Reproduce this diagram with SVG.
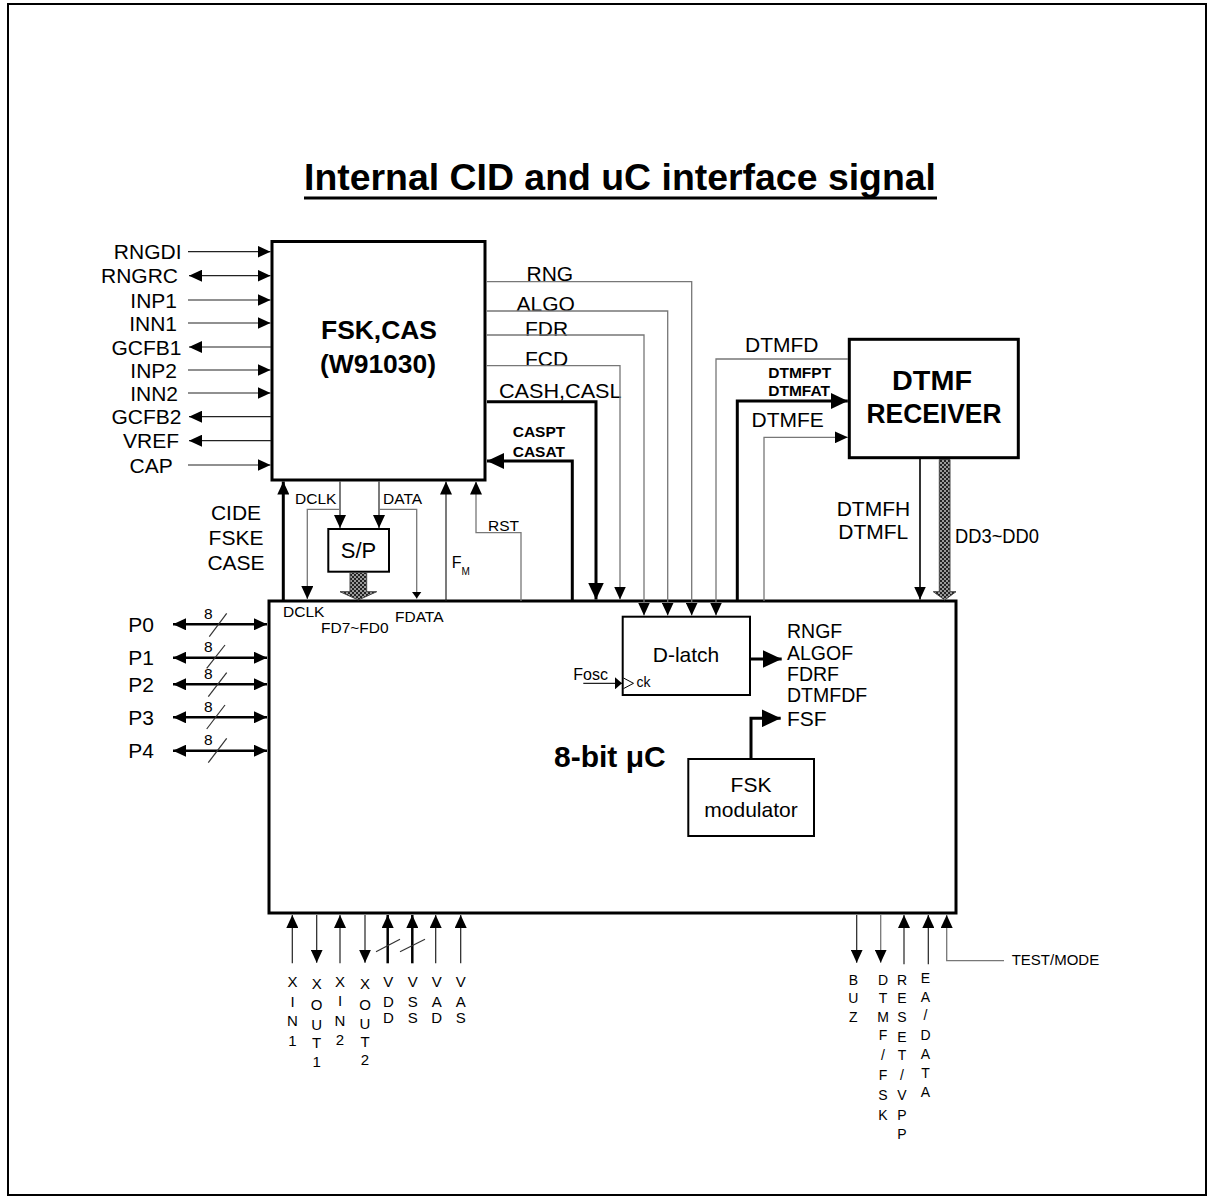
<svg xmlns="http://www.w3.org/2000/svg" width="1214" height="1200" viewBox="0 0 1214 1200">
<defs>
<style>
text{font-family:"Liberation Sans",Arial,sans-serif;fill:#000}
.l{font-size:21px}
.f{font-size:19.5px}
.s{font-size:15.5px}
.b{font-weight:bold}
.e{text-anchor:end}
.m{text-anchor:middle}
.pin{font-size:15px;text-anchor:middle}
.pinr{font-size:14px;text-anchor:middle}
.box{fill:#fff;stroke:#000;stroke-width:3}
.box2{fill:#fff;stroke:#000;stroke-width:2}
.w{fill:none;stroke:#222;stroke-width:1.2}
.g{fill:none;stroke:#777;stroke-width:1.3}
.k{fill:none;stroke:#000;stroke-width:3}
.p{fill:none;stroke:#000;stroke-width:2.5}
.sl{fill:none;stroke:#333;stroke-width:1.2}
.hat{fill:url(#hatch);stroke:#444;stroke-width:1}
</style>
<marker id="arr" markerUnits="userSpaceOnUse" viewBox="0 0 13 12" refX="13" refY="6" markerWidth="13" markerHeight="12" orient="auto-start-reverse"><path d="M0,0 L13,6 L0,12 z" fill="#000"/></marker>
<marker id="arrB" markerUnits="userSpaceOnUse" viewBox="0 0 17 16" refX="17" refY="8" markerWidth="17" markerHeight="16" orient="auto-start-reverse"><path d="M0,0 L17,8 L0,16 z" fill="#000"/></marker>
<marker id="arrX" markerUnits="userSpaceOnUse" viewBox="0 0 19 18" refX="19" refY="9" markerWidth="19" markerHeight="18" orient="auto-start-reverse"><path d="M0,0 L19,9 L0,18 z" fill="#000"/></marker>
<marker id="arrS" markerUnits="userSpaceOnUse" viewBox="0 0 7 10" refX="7" refY="5" markerWidth="7" markerHeight="10" orient="auto-start-reverse"><path d="M0,0 L7,5 L0,10 z" fill="#000"/></marker>
<marker id="arrC" markerUnits="userSpaceOnUse" viewBox="0 0 7 12" refX="7" refY="6" markerWidth="7" markerHeight="12" orient="auto-start-reverse"><path d="M0,0 L7,6 L0,12 z" fill="#000"/></marker>
<pattern id="hatch" patternUnits="userSpaceOnUse" width="4" height="4"><rect width="4" height="4" fill="#999"/><rect width="2" height="2" fill="#222"/><rect x="2" y="2" width="2" height="2" fill="#222"/></pattern>
</defs>
<rect x="0" y="0" width="1214" height="1200" fill="#fff"/>
<rect x="8" y="4" width="1198" height="1191" fill="none" stroke="#000" stroke-width="2"/>

<g id="title">
<text x="304" y="190" font-size="37" font-weight="bold" textLength="632" lengthAdjust="spacingAndGlyphs" style="font-family:'Liberation Sans Narrow','Liberation Sans',Arial,sans-serif">Internal CID and uC interface signal</text>
<line x1="304" y1="198" x2="937" y2="198" stroke="#000" stroke-width="3"/>
</g>

<g id="uc">
<rect class="box" x="269" y="601" width="687" height="312"/>
<text x="554" y="767" font-size="30" font-weight="bold">8-bit μC</text>
<text class="s" x="283" y="617">DCLK</text>
<text class="s" x="321" y="633">FD7~FD0</text>
<text class="s" x="395" y="621.5">FDATA</text>
<text class="f" x="787" y="638">RNGF</text>
<text class="f" x="787" y="659.5">ALGOF</text>
<text class="f" x="787" y="681">FDRF</text>
<text class="f" x="787" y="702">DTMFDF</text>
<text class="l" x="787" y="725.5">FSF</text>
</g>

<g id="fsk">
<rect class="box" x="272" y="241.5" width="213" height="238.5"/>
<text x="379" y="339" font-size="26" font-weight="bold" text-anchor="middle" textLength="116" lengthAdjust="spacingAndGlyphs">FSK,CAS</text>
<text x="378" y="373" font-size="26" font-weight="bold" text-anchor="middle" textLength="116" lengthAdjust="spacingAndGlyphs">(W91030)</text>
</g>

<g id="dtmf">
<rect class="box" x="849.3" y="339.3" width="169" height="118.4"/>
<text x="932" y="390" font-size="27" font-weight="bold" text-anchor="middle" textLength="80" lengthAdjust="spacingAndGlyphs">DTMF</text>
<text x="934" y="423.3" font-size="27" font-weight="bold" text-anchor="middle" textLength="135" lengthAdjust="spacingAndGlyphs">RECEIVER</text>
</g>

<g id="sp">
<rect class="box2" x="328.3" y="529" width="60.7" height="42.7"/>
<text x="358.5" y="558" font-size="22" text-anchor="middle">S/P</text>
</g>

<g id="dlatch">
<rect class="box2" x="622.7" y="616.7" width="127.3" height="78.3"/>
<text class="l m" x="686" y="662">D-latch</text>
<path d="M623.5,678 L633.5,683.3 L623.5,688.6" fill="none" stroke="#000" stroke-width="1"/>
<text x="636.5" y="687" font-size="14">ck</text>
</g>

<g id="fskmod">
<rect class="box2" x="688.3" y="759" width="125.7" height="77"/>
<text class="l m" x="751" y="792">FSK</text>
<text class="l m" x="751" y="817">modulator</text>
</g>

<g id="labels">
<text class="l e" x="181.5" y="259.3">RNGDI</text>
<text class="l e" x="178" y="283.3">RNGRC</text>
<text class="l e" x="177" y="307.6">INP1</text>
<text class="l e" x="177" y="330.6">INN1</text>
<text class="l e" x="181.5" y="354.6">GCFB1</text>
<text class="l e" x="177" y="377.6">INP2</text>
<text class="l e" x="178" y="400.6">INN2</text>
<text class="l e" x="181.5" y="424.3">GCFB2</text>
<text class="l e" x="179" y="448.3">VREF</text>
<text class="l e" x="172.7" y="472.6">CAP</text>

<text class="l" x="526.5" y="280.5">RNG</text>
<text class="l" x="516.5" y="311">ALGO</text>
<text class="l" x="525" y="335.5">FDR</text>
<text class="l" x="525" y="366">FCD</text>
<text class="l" x="499" y="398" textLength="122.5" lengthAdjust="spacingAndGlyphs">CASH,CASL</text>
<text class="s b" x="512.7" y="437.3">CASPT</text>
<text class="s b" x="512.7" y="456.7">CASAT</text>
<text class="s" x="488" y="531">RST</text>
<text x="451.7" y="568.3" font-size="16">F</text>
<text x="461.5" y="574.5" font-size="10">M</text>
<text class="l m" x="236" y="520">CIDE</text>
<text class="l m" x="236" y="545">FSKE</text>
<text class="l m" x="236" y="570">CASE</text>
<text class="s" x="295" y="504.3">DCLK</text>
<text class="s" x="383" y="504.3">DATA</text>

<text class="l" x="745" y="352.3">DTMFD</text>
<text class="s b" x="768.3" y="377.7">DTMFPT</text>
<text class="s b" x="768.3" y="396">DTMFAT</text>
<text class="l" x="751.5" y="426.7">DTMFE</text>
<text class="l" x="836.7" y="515.7">DTMFH</text>
<text class="l" x="838.3" y="539.3">DTMFL</text>
<text class="l" x="955" y="543.3" textLength="84" lengthAdjust="spacingAndGlyphs">DD3~DD0</text>
<text x="573.3" y="680" font-size="16">Fosc</text>

<text class="l m" x="141" y="631.8">P0</text>
<text class="l m" x="141" y="665.2">P1</text>
<text class="l m" x="141" y="691.8">P2</text>
<text class="l m" x="141" y="724.8">P3</text>
<text class="l m" x="141" y="758.2">P4</text>
<text class="s m" x="208.3" y="619">8</text>
<text class="s m" x="208.3" y="652">8</text>
<text class="s m" x="208.3" y="679">8</text>
<text class="s m" x="208.3" y="711.5">8</text>
<text class="s m" x="208.3" y="745">8</text>

<text class="pin"><tspan x="292.5" y="987">X</tspan><tspan x="292.5" y="1007">I</tspan><tspan x="292.5" y="1026">N</tspan><tspan x="292.5" y="1046">1</tspan></text>
<text class="pin"><tspan x="316.7" y="989">X</tspan><tspan x="316.7" y="1010">O</tspan><tspan x="316.7" y="1030">U</tspan><tspan x="316.7" y="1048">T</tspan><tspan x="316.7" y="1067">1</tspan></text>
<text class="pin"><tspan x="340" y="986.5">X</tspan><tspan x="340" y="1006">I</tspan><tspan x="340" y="1026">N</tspan><tspan x="340" y="1045">2</tspan></text>
<text class="pin"><tspan x="365" y="988.5">X</tspan><tspan x="365" y="1010">O</tspan><tspan x="365" y="1028.5">U</tspan><tspan x="365" y="1047">T</tspan><tspan x="365" y="1065">2</tspan></text>
<text class="pin"><tspan x="388.3" y="987">V</tspan><tspan x="388.3" y="1007">D</tspan><tspan x="388.3" y="1022.5">D</tspan></text>
<text class="pin"><tspan x="412.7" y="987">V</tspan><tspan x="412.7" y="1007">S</tspan><tspan x="412.7" y="1022.5">S</tspan></text>
<text class="pin"><tspan x="436.7" y="987">V</tspan><tspan x="436.7" y="1007">A</tspan><tspan x="436.7" y="1022.5">D</tspan></text>
<text class="pin"><tspan x="460.7" y="987">V</tspan><tspan x="460.7" y="1007">A</tspan><tspan x="460.7" y="1022.5">S</tspan></text>

<text class="pinr"><tspan x="853.3" y="985">B</tspan><tspan x="853.3" y="1003.3">U</tspan><tspan x="853.3" y="1021.7">Z</tspan></text>
<text class="pinr"><tspan x="883" y="985">D</tspan><tspan x="883" y="1003.3">T</tspan><tspan x="883" y="1021.7">M</tspan><tspan x="883" y="1040">F</tspan><tspan x="883" y="1060">/</tspan><tspan x="883" y="1080">F</tspan><tspan x="883" y="1100">S</tspan><tspan x="883" y="1120">K</tspan></text>
<text class="pinr"><tspan x="902" y="985">R</tspan><tspan x="902" y="1003.3">E</tspan><tspan x="902" y="1021.7">S</tspan><tspan x="902" y="1041.7">E</tspan><tspan x="902" y="1060">T</tspan><tspan x="902" y="1080">/</tspan><tspan x="902" y="1100">V</tspan><tspan x="902" y="1120">P</tspan><tspan x="902" y="1139.3">P</tspan></text>
<text class="pinr"><tspan x="925.5" y="982.7">E</tspan><tspan x="925.5" y="1001.7">A</tspan><tspan x="925.5" y="1020">/</tspan><tspan x="925.5" y="1040">D</tspan><tspan x="925.5" y="1059.3">A</tspan><tspan x="925.5" y="1078.3">T</tspan><tspan x="925.5" y="1097.3">A</tspan></text>
<text x="1011.7" y="965" font-size="15">TEST/MODE</text>
</g>

<g id="connectors">
<line class="w" x1="188" y1="251.7" x2="270.5" y2="251.7" marker-end="url(#arr)"/>
<line class="w" x1="189" y1="275.7" x2="270.5" y2="275.7" marker-start="url(#arr)" marker-end="url(#arr)"/>
<line class="w" x1="188" y1="300" x2="270.5" y2="300" marker-end="url(#arr)"/>
<line class="w" x1="188" y1="323" x2="270.5" y2="323" marker-end="url(#arr)"/>
<line class="w" x1="271" y1="347" x2="189" y2="347" marker-end="url(#arr)"/>
<line class="w" x1="188" y1="370" x2="270.5" y2="370" marker-end="url(#arr)"/>
<line class="w" x1="188" y1="393" x2="270.5" y2="393" marker-end="url(#arr)"/>
<line class="w" x1="271" y1="416.7" x2="189" y2="416.7" marker-end="url(#arr)"/>
<line class="w" x1="271" y1="440.7" x2="189" y2="440.7" marker-end="url(#arr)"/>
<line class="w" x1="188" y1="465" x2="270.5" y2="465" marker-end="url(#arr)"/>

<polyline class="g" points="486.5,281.7 691.7,281.7 691.7,615.5" marker-end="url(#arr)"/>
<polyline class="g" points="486.5,311 667.7,311 667.7,615.5" marker-end="url(#arr)"/>
<polyline class="g" points="486.5,335 644,335 644,615.5" marker-end="url(#arr)"/>
<polyline class="g" points="486.5,365.7 620,365.7 620,599.5" marker-end="url(#arr)"/>
<polyline class="k" points="487,401.7 596,401.7 596,599.5" marker-end="url(#arrB)"/>
<polyline class="k" points="572.3,601 572.3,461 487,461" marker-end="url(#arrB)"/>
<polyline class="g" points="521,601 521,532.7 476,532.7 476,481.5" marker-end="url(#arr)"/>
<line class="w" x1="446" y1="601" x2="446" y2="481.5" marker-end="url(#arr)"/>
<line class="k" x1="283.3" y1="601" x2="283.3" y2="481.5" marker-end="url(#arr)"/>
<line class="w" x1="340" y1="481.5" x2="340" y2="528" marker-end="url(#arr)"/>
<polyline class="g" points="340,509.3 307.3,509.3 307.3,599" marker-end="url(#arr)"/>
<line class="w" x1="379" y1="481.5" x2="379" y2="528" marker-end="url(#arr)"/>
<polyline class="g" points="379,509.3 416.7,509.3 416.7,598.5" marker-end="url(#arrS)"/>
<polygon class="hat" points="350,572.5 366.7,572.5 366.7,591.7 376.7,591.7 358.3,600 340,591.7 350,591.7"/>

<polyline class="g" points="848,359 716,359 716,615.5" marker-end="url(#arr)"/>
<polyline class="k" points="737.3,601 737.3,401 847.8,401" marker-end="url(#arrB)"/>
<polyline class="g" points="764,601 764,437.3 847.8,437.3" marker-end="url(#arr)"/>
<line stroke="#000" stroke-width="1.6" x1="920" y1="459" x2="920" y2="599.5" marker-end="url(#arr)"/>
<polygon class="hat" points="939.3,459.5 950,459.5 950,591.7 956,591.7 944.7,600 933.3,591.7 939.3,591.7"/>

<line class="k" x1="751" y1="659" x2="781.7" y2="659" marker-end="url(#arrX)"/>
<polyline class="k" points="751,758 751,718.3 780.7,718.3" marker-end="url(#arrX)"/>
<line class="w" x1="583.3" y1="683.3" x2="622" y2="683.3" marker-end="url(#arrC)"/>

<line class="p" x1="173" y1="624.3" x2="267" y2="624.3" marker-start="url(#arr)" marker-end="url(#arr)"/>
<line class="p" x1="173" y1="657.7" x2="267" y2="657.7" marker-start="url(#arr)" marker-end="url(#arr)"/>
<line class="p" x1="173" y1="684.3" x2="267" y2="684.3" marker-start="url(#arr)" marker-end="url(#arr)"/>
<line class="p" x1="173" y1="717.3" x2="267" y2="717.3" marker-start="url(#arr)" marker-end="url(#arr)"/>
<line class="p" x1="173" y1="750.7" x2="267" y2="750.7" marker-start="url(#arr)" marker-end="url(#arr)"/>
<line class="sl" x1="209.3" y1="636.7" x2="226.7" y2="613.3"/>
<line class="sl" x1="206.7" y1="668.3" x2="225" y2="645"/>
<line class="sl" x1="208.3" y1="696.7" x2="226.7" y2="672.7"/>
<line class="sl" x1="206.7" y1="729" x2="225" y2="705"/>
<line class="sl" x1="208.3" y1="762.7" x2="226.7" y2="738.3"/>

<line class="w" x1="292.3" y1="963.3" x2="292.3" y2="915" marker-end="url(#arr)"/>
<line class="w" x1="316.7" y1="915" x2="316.7" y2="962.7" marker-end="url(#arr)"/>
<line class="w" x1="340" y1="963.3" x2="340" y2="915" marker-end="url(#arr)"/>
<line class="w" x1="365" y1="915" x2="365" y2="962.7" marker-end="url(#arr)"/>
<line stroke="#000" stroke-width="2.5" x1="387.7" y1="963.3" x2="387.7" y2="915" marker-end="url(#arr)"/>
<line stroke="#000" stroke-width="2.5" x1="412.3" y1="963.3" x2="412.3" y2="915" marker-end="url(#arr)"/>
<line class="w" x1="435.7" y1="963.3" x2="435.7" y2="915" marker-end="url(#arr)"/>
<line class="w" x1="460.7" y1="963.3" x2="460.7" y2="915" marker-end="url(#arr)"/>
<line class="sl" x1="376" y1="951.7" x2="400" y2="939.3"/>
<line class="sl" x1="400" y1="951.7" x2="425" y2="939.3"/>

<line class="w" x1="856.7" y1="915" x2="856.7" y2="962.7" marker-end="url(#arr)"/>
<line class="g" x1="880.7" y1="915" x2="880.7" y2="962.7" marker-end="url(#arr)"/>
<line class="w" x1="904" y1="964.3" x2="904" y2="915" marker-end="url(#arr)"/>
<line class="w" x1="928.3" y1="964.3" x2="928.3" y2="915" marker-end="url(#arr)"/>
<polyline class="g" points="1004,960.7 946.7,960.7 946.7,915" marker-end="url(#arr)"/>
</g>
</svg>
